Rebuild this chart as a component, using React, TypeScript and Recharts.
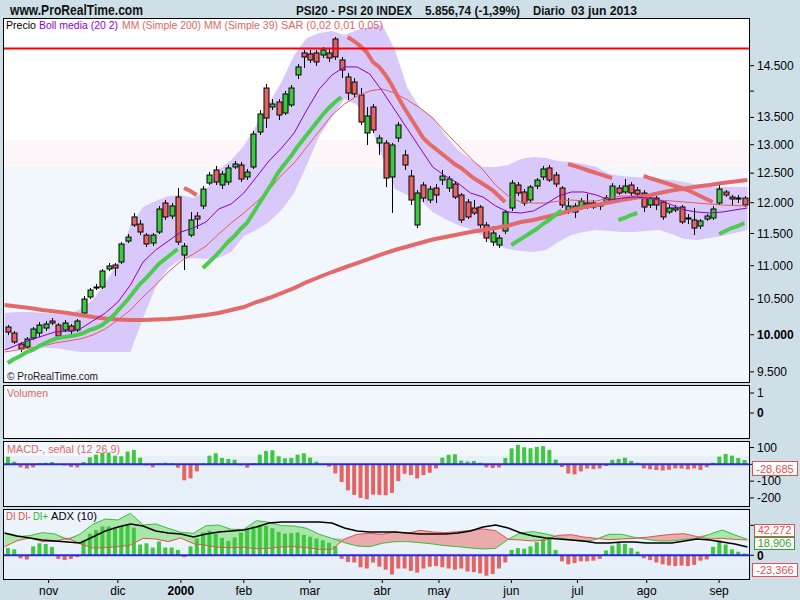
import React from 'react';
import { ComposedChart, Bar, Line, Area, XAxis, YAxis, ReferenceLine } from 'recharts';

const FONT = '"Liberation Sans", Arial, sans-serif';
const ROWS = 237; // sessions, mid Oct 1999 .. mid Sep 2000

// candles: one every two sessions (rows 1, 3, 5 ...)
const opens = [
  10107, 10023, 9873, 9832, 9955, 10023, 10093, 10191, 10135, 10065,
  10121, 10065, 10304, 10535, 10667, 10681, 10950, 11011, 11057, 11381,
  11766, 11652, 11476, 11350, 11524, 11995, 11782, 12095, 11164, 11476,
  11782, 11946, 12331, 12555, 12297, 12348, 12607, 12642, 12434, 12607,
  13231, 14060, 13696, 13791, 13583, 13734, 14315, 14757, 14737, 14757,
  14716, 14757, 15045, 14615, 14276, 14177, 13925, 13213, 13696, 13032,
  13032, 12434, 13122, 12817, 12451, 11636, 12297, 12045, 12246, 12382,
  12246, 12314, 12129, 12012, 11913, 11929, 11636, 11366, 11319, 11540,
  11913, 12297, 12179, 12045, 12280, 12434, 12590, 12468, 12246, 11880,
  11847, 11913, 11995, 11995, 11946, 11995, 12045, 12246, 12179, 12297,
  12212, 12162, 11962, 12078, 12012, 11847, 11880, 11929, 11750, 11717,
  11620, 11733, 11750, 11995, 12179, 12095, 12062, 12078,
];
const closes = [
  10037, 9900, 9805, 9941, 10079, 10135, 10149, 10163, 9982, 10163,
  10051, 10191, 10505, 10637, 10681, 10920, 10996, 10965, 11335, 11444,
  11636, 11524, 11335, 11476, 11896, 11766, 11946, 11366, 11303, 11717,
  11733, 12229, 12468, 12348, 12485, 12590, 12659, 12399, 12520, 13194,
  13564, 13489, 13753, 13545, 13944, 14060, 14475, 14676, 14615, 14575,
  14818, 14655, 14676, 14414, 13963, 13944, 13415, 13527, 13268, 13122,
  12416, 12996, 13360, 12642, 12045, 12162, 12078, 12229, 12129, 12451,
  12399, 12095, 11717, 11766, 11831, 11636, 11429, 11508, 11429, 11847,
  12331, 12162, 11995, 12263, 12382, 12572, 12382, 12314, 11962, 11946,
  11946, 12028, 11962, 11929, 11979, 12078, 12280, 12162, 12280, 12162,
  12145, 11929, 12078, 11962, 11766, 11913, 11913, 11685, 11733, 11588,
  11701, 11782, 11896, 12229, 12129, 12062, 12078, 11962,
];
const highs = [
  10135, 10051, 9900, 9968, 10107, 10177, 10191, 10233, 10163, 10205,
  10149, 10219, 10549, 10667, 10726, 10950, 11041, 11041, 11366, 11492,
  11831, 11717, 11508, 11508, 11946, 12045, 11995, 12246, 11350, 11847,
  11847, 12280, 12520, 12625, 12537, 12642, 12712, 12694, 12572, 13250,
  13639, 14138, 13848, 13848, 14002, 14119, 14535, 14818, 14818, 14818,
  14879, 14859, 15086, 14676, 14355, 14256, 14060, 13696, 13753, 13176,
  13086, 13032, 13415, 12906, 12555, 12212, 12348, 12280, 12314, 12555,
  12451, 12365, 12162, 12062, 12045, 11962, 11685, 11620, 11476, 11880,
  12382, 12348, 12229, 12297, 12416, 12625, 12642, 12520, 12280, 12078,
  11995, 12078, 12145, 12045, 12012, 12129, 12331, 12297, 12399, 12348,
  12263, 12212, 12112, 12112, 12045, 11962, 11962, 11962, 11814, 11913,
  11733, 11814, 11946, 12297, 12212, 12129, 12129, 12112,
];
const lows = [
  9996, 9873, 9764, 9805, 9927, 9968, 10051, 10135, 9955, 10037,
  9982, 10037, 10276, 10505, 10637, 10652, 10920, 10845, 11026, 11350,
  11604, 11476, 11288, 11303, 11492, 11717, 11733, 11319, 10935, 11444,
  11572, 11896, 12297, 12297, 12229, 12297, 12572, 12348, 12382, 12572,
  13176, 13305, 13639, 13452, 13545, 13696, 14236, 14455, 14555, 14495,
  14655, 14575, 14615, 14256, 13829, 13887, 13360, 12996, 13213, 12817,
  12263, 11831, 13050, 12555, 11962, 11588, 12012, 11995, 11995, 12297,
  12179, 12062, 11668, 11733, 11798, 11588, 11366, 11303, 11272, 11492,
  11864, 12112, 11946, 11995, 12229, 12382, 12348, 12263, 11913, 11814,
  11750, 11880, 11896, 11896, 11880, 11962, 12012, 12129, 12145, 12112,
  12095, 11847, 11913, 11880, 11717, 11814, 11847, 11652, 11652, 11476,
  11572, 11701, 11717, 11962, 12095, 11962, 11995, 11929,
];

// parabolic SAR, same spacing as the candles
const sar = [
  9617, 9670, 9710, 9764, 9791, 9845, 9886, 9927, 9955, 9968,
  9982, 9996, 10023, 10065, 10093, 10135, 10205, 10290, 10390, 10491,
  10608, 10726, 10815, 10920, 11026, 11103, 11179, 11257, 12246, 12196,
  12129, 10965, 11057, 11149, 11257, 11366, 11460, 11572, 11668, 11831,
  11995, 12162, 12331, 12520, 12659, 12799, 12960, 13104, 13250, 13397,
  13545, 13677, 13791, 13887, 15086, 15003, 14899, 14777, 14575, 14475,
  14315, 14119, 13887, 13677, 13489, 13305, 13122, 13014, 12924, 12835,
  12746, 12659, 12590, 12503, 12416, 12348, 12280, 12212, 12112, 12012,
  11319, 11381, 11444, 11508, 11572, 11652, 11717, 11798, 11880, 12659,
  12625, 12590, 12555, 12520, 12485, 12451, 12416, 11717, 11750, 11798,
  11831, 12451, 12416, 12382, 12348, 12314, 12280, 12246, 12212, 12162,
  12112, 12062, 12012, 11492, 11540, 11588, 11620, 11668,
];
// candle index where the SAR changes side (run 0 is below the price)
const sarFlips = [28, 31, 54, 80, 89, 97, 101, 113];

const macdHist = [
  45, 16, -18, -25, -18, 8, 10, 14, 2, -5,
  -16, -18, 14, 42, 58, 68, 70, 52, 48, 76,
  86, 40, -4, -18, 8, 10, 6, -20, -95, -84,
  -42, 6, 52, 66, 38, 32, 28, -6, -20, 8,
  58, 80, 84, 48, 36, 38, 58, 66, 40, 16,
  4, -14, -54, -105, -155, -182, -200, -208, -180, -182,
  -184, -170, -100, -56, -64, -84, -64, -50, -24, 40,
  57, 60, 22, 17, 20, 10, -18, -22, -18, 38,
  95, 116, 102, 96, 104, 108, 86, 28, -16, -55,
  -60, -42, -25, -28, -24, -10, 27, 32, 40, 20,
  10, -24, -29, -34, -37, -32, -24, -25, -30, -24,
  -33, -17, 10, 46, 62, 52, 38, 26,
];
const dmiHist = [
  12, 10, -5, -7, 15, 20, 19, 14, -6, -8,
  -6, -3, 25, 36, 42, 48, 48, 46, 49, 52,
  46, 18, 20, 13, 23, 13, 13, 9, -3, 15,
  28, 38, 41, 36, 29, 24, 30, 38, 44, 48,
  50, 49, 45, 39, 36, 37, 38, 34, 31, 28,
  25, 21, 15, -6, -11, -12, -20, -22, -12, -19,
  -24, -32, -22, -22, -26, -29, -22, -19, -18, -20,
  -22, -24, -22, -27, -28, -30, -34, -31, -22, -12,
  9, 12, 11, 15, 22, 27, 30, 9, -10, -15,
  -13, -10, -10, -9, -6, 8, 16, 21, 19, 12,
  6, -5, -8, -12, -15, -17, -18, -17, -18, -16,
  -9, -7, 14, 25, 18, 10, 6, 3,
];

// indicators read every four sessions (rows 0, 4, 8 ...)
const bollUpper = [
  10304, 10318, 10318, 10304, 10290, 10276, 10361, 10491, 10741, 11057,
  11636, 11929, 12028, 12112, 12129, 12078, 12212, 12555, 12729, 12978,
  13360, 13772, 14177, 14716, 15066, 15170, 15212, 15128, 15233, 15296,
  15339, 14818, 14060, 13677, 13508, 13176, 12906, 12746, 12607, 12607,
  12642, 12746, 12781, 12764, 12712, 12694, 12659, 12607, 12485, 12451,
  12434, 12416, 12399, 12382, 12348, 12297, 12263, 12263, 12263, 12263,
];
const bollLower = [
  9791, 9805, 9805, 9818, 9818, 9791, 9764, 9764, 9764, 9764,
  9764, 10233, 10681, 10965, 11103, 11118, 11103, 11118, 11210, 11460,
  11556, 11685, 11880, 12162, 12642, 13158, 13508, 13848, 13734, 13378,
  12781, 12229, 12129, 12045, 11847, 11733, 11636, 11572, 11460, 11319,
  11257, 11226, 11210, 11241, 11366, 11476, 11524, 11556, 11540, 11524,
  11524, 11540, 11556, 11492, 11413, 11397, 11429, 11460, 11508, 11556,
];
const bollMid = [
  9791, 9859, 9927, 9982, 10037, 10051, 10079, 10191, 10304, 10462,
  10711, 11057, 11241, 11381, 11524, 11588, 11685, 11896, 11979, 12162,
  12434, 12712, 12942, 13213, 13639, 14041, 14315, 14475, 14475, 14335,
  14002, 13639, 13286, 12942, 12607, 12451, 12331, 12162, 12095, 11946,
  11847, 11831, 11864, 11979, 12112, 12179, 12179, 12129, 12045, 12078,
  12095, 12078, 12045, 11962, 11880, 11847, 11831, 11847, 11880, 11913,
];
const sma200 = [
  10419, 10397, 10376, 10347, 10326, 10304, 10276, 10248, 10226, 10212,
  10205, 10205, 10212, 10219, 10233, 10255, 10276, 10304, 10347, 10390,
  10462, 10520, 10593, 10666, 10755, 10830, 10905, 10973, 11041, 11110,
  11179, 11241, 11296, 11350, 11405, 11444, 11484, 11524, 11556, 11588,
  11628, 11685, 11717, 11766, 11814, 11872, 11929, 11962, 12003, 12045,
  12078, 12112, 12162, 12204, 12238, 12272, 12297, 12331, 12356, 12382,
];
const sma39 = [
  9764, 9791, 9818, 9845, 9886, 9913, 9941, 9996, 10079, 10205,
  10347, 10535, 10711, 10905, 11072, 11179, 11303, 11492, 11668, 11831,
  12012, 12212, 12468, 12677, 12960, 13250, 13545, 13753, 13906, 14002,
  14041, 13963, 13829, 13677, 13489, 13231, 12996, 12764, 12555, 12297,
  12112, 12012, 11995, 11995, 12028, 12045, 12028, 12028, 12078, 12112,
  12112, 12078, 12045, 12028, 12012, 11995, 11979, 11962, 11954, 11946,
];
const adx = [
  37.2, 32.2, 28.8, 25.5, 23.8, 22.2, 20.5, 30.5, 40.5, 47.2,
  52.2, 48.8, 40.5, 37.2, 35.5, 30.5, 35.5, 38.8, 40.5, 42.2,
  47.2, 53.8, 55.5, 55.5, 55.5, 55.5, 53.8, 45.5, 40.5, 38.8,
  38.8, 38.8, 37.2, 35.5, 35.5, 35.5, 37.2, 40.5, 47.2, 50.5,
  45.5, 37.2, 32.2, 28.8, 27.2, 25.5, 23.8, 20.5, 20.5, 22.2,
  22.2, 20.5, 20.5, 20.5, 23.8, 27.2, 25.5, 22.2, 18.8, 13.8,
];
const diPlus = [
  36.6, 31.1, 32.8, 37.8, 35.5, 25.5, 35.5, 51.6, 60.5, 58.9,
  70.0, 50.5, 52.2, 45.0, 38.3, 36.6, 49.4, 50.5, 43.3, 43.3,
  57.8, 55.0, 49.4, 48.9, 45.0, 35.0, 28.3, 21.1, 15.5, 14.4,
  20.0, 22.8, 22.8, 21.1, 18.9, 16.1, 14.4, 12.2, 10.5, 11.6,
  26.6, 37.8, 39.4, 35.5, 29.4, 25.5, 22.8, 26.6, 35.0, 35.0,
  30.0, 26.6, 23.9, 23.9, 26.6, 28.3, 35.0, 42.2, 33.9, 26.6,
];
const diMinus = [
  14.4, 24.4, 28.9, 22.8, 23.3, 28.3, 19.4, 12.2, 12.8, 14.4,
  17.2, 28.3, 27.2, 22.8, 28.9, 19.4, 16.6, 13.3, 12.8, 13.3,
  11.1, 11.6, 13.9, 14.4, 12.8, 10.0, 10.0, 27.2, 35.0, 36.6,
  35.0, 38.9, 36.6, 41.7, 38.9, 37.8, 39.4, 41.7, 43.9, 41.1,
  26.6, 25.5, 23.9, 25.5, 33.3, 34.4, 30.5, 28.3, 26.1, 27.2,
  28.3, 30.0, 32.8, 35.0, 36.1, 31.1, 27.2, 28.3, 26.6, 25.5,
];

const months = [
  { d: 14, label: 'nov' }, { d: 36, label: 'dic' }, { d: 56, label: '2000' },
  { d: 76, label: 'feb' }, { d: 97, label: 'mar' }, { d: 120, label: 'abr' },
  { d: 138, label: 'may' }, { d: 161, label: 'jun' }, { d: 182, label: 'jul' },
  { d: 204, label: 'ago' }, { d: 227, label: 'sep' },
];
const priceTicks = [9500, 10000, 10500, 11000, 11500, 12000, 12500, 13000, 13500, 14000, 14500];
const topLine = 14850;

const GREEN = '#3fc83f';
const RED = '#e46464';

type Row = { [key: string]: any };
const rows: Row[] = [];
for (let d = 0; d < ROWS; d++) rows.push({ d });
opens.forEach((o, k) => {
  const r = rows[2 * k + 1];
  r.o = o;
  r.h = highs[k];
  r.l = lows[k];
  r.c = closes[k];
  r.range = [lows[k], highs[k]];
  r.macd = macdHist[k];
  r.dmi = dmiHist[k];
});
let run = 0;
sar.forEach((v, k) => {
  while (run < sarFlips.length && k >= sarFlips[run]) run++;
  rows[2 * k + 1]['sar' + run] = v;
});
const sarRuns = sarFlips.length + 1;
bollUpper.forEach((u, j) => {
  const r = rows[4 * j];
  r.band = [bollLower[j], u];
  r.mid = bollMid[j];
  r.s200 = sma200[j];
  r.s39 = sma39[j];
  r.adx = adx[j];
  r.dip = diPlus[j];
  r.dim = diMinus[j];
  const top = Math.max(diPlus[j], diMinus[j]);
  r.upFill = [diMinus[j], top];
  r.dnFill = [diPlus[j], top];
});

const fmtPrice = (v: number) => `${Math.floor(v / 1000)}.${String(v % 1000).padStart(3, '0')}`;

const PriceTick = (props: any) => {
  const { x, y, payload } = props;
  const v = payload.value;
  if (v === 14000) return <g />;
  return (
    <text x={x} y={y} dy={4} textAnchor="start" fontSize={12} fontFamily={FONT}
      fontWeight={v === 10000 ? 'bold' : 'normal'} fill="#000">
      {fmtPrice(v)}
    </text>
  );
};

// labels covered by the value tags in the reference are left out
const plainTick = (hidden: number[], dy = 4) => (props: any) => {
  const { x, y, payload } = props;
  const v = payload.value;
  if (hidden.includes(v)) return <g />;
  return (
    <text x={x} y={y} dy={dy} textAnchor="start" fontSize={12} fontFamily={FONT}
      fontWeight={v === 0 ? 'bold' : 'normal'} fill="#000">
      {v}
    </text>
  );
};

const MonthTick = (props: any) => {
  const { x, y, payload } = props;
  const m = months.find((mm) => mm.d === payload.value);
  const label = m ? m.label : '';
  return (
    <text x={x} y={y} dy={10} textAnchor="middle" fontSize={12} fontFamily={FONT}
      fontWeight={label === '2000' ? 'bold' : 'normal'} fill="#000">
      {label}
    </text>
  );
};

const Candle = (props: any) => {
  const { x, y, width, height, payload } = props;
  if (!payload || payload.o == null || !isFinite(y) || !isFinite(height)) return <g />;
  const cx = Math.round(x + width / 2) + 0.5;
  const lh = Math.log(payload.h);
  const ll = Math.log(payload.l);
  const span = lh - ll || 1;
  const at = (v: number) => y + (height * (lh - Math.log(v))) / span;
  const yo = at(payload.o);
  const yc = at(payload.c);
  const top = Math.min(yo, yc);
  const bot = Math.max(yo, yc);
  const up = payload.c >= payload.o;
  return (
    <g>
      <line x1={cx} x2={cx} y1={y} y2={y + height} stroke="#000" strokeWidth={1} />
      <rect x={cx - 2.5} y={top} width={5} height={Math.max(bot - top, 1)}
        fill={up ? GREEN : RED} stroke="#000" strokeWidth={1} />
    </g>
  );
};

const histShape = (key: string) => (props: any) => {
  const { x, y, width, height, payload } = props;
  const v = payload ? payload[key] : undefined;
  if (v == null || !isFinite(y) || !isFinite(height)) return <g />;
  const top = Math.min(y, y + height);
  const h = Math.max(Math.abs(height), 1);
  const cx = x + width / 2;
  return <rect x={cx - 2} y={top} width={4} height={h} fill={v >= 0 ? GREEN : RED} />;
};

const margin = { top: 0, right: 3, bottom: 0, left: 3 };

const Txt = ({ x, y, len, children, color = '#000', size = 11, bold = false }: any) => (
  <text x={x} y={y} textLength={len} lengthAdjust="spacingAndGlyphs" fontSize={size}
    fontFamily={FONT} fontWeight={bold ? 'bold' : 'normal'} fill={color}>
    {children}
  </text>
);

const Tag = ({ x, y, w, h, text, color }: any) => (
  <g>
    <rect x={x + 0.5} y={y + 0.5} width={w} height={h} fill="#fff" stroke={color} />
    <text x={x + w / 2 + 0.5} y={y + h - 2} textAnchor="middle" fontSize={11} fontFamily={FONT} fill={color}>
      {text}
    </text>
  </g>
);

const box = (top: number, height: number, bg: string): React.CSSProperties => ({
  position: 'absolute', left: 3, top, width: 747, height, background: bg,
});
const frame = (top: number, height: number): React.CSSProperties => ({
  position: 'absolute', left: 3, top, width: 747, height, border: '1px solid #000',
  boxSizing: 'border-box', pointerEvents: 'none',
});
const at = (top: number): React.CSSProperties => ({ position: 'absolute', left: 0, top });

export default function App() {
  return (
    <div style={{ position: 'absolute', left: 0, top: 0, width: 800, height: 600, overflow: 'hidden', background: '#cfdfe7' }}>
      <div style={box(18, 365, 'linear-gradient(#ffffff 0, #ffffff 122px, #fdf7fb 122px, #fdf7fb 149px, #f2f7fd 149px)')} />
      <div style={box(385, 54, '#f1f7fd')} />
      <div style={box(441, 66, 'linear-gradient(#f3f8fd 0, #f3f8fd 15px, #e7f0f9 15px)')} />
      <div style={box(509, 71, 'linear-gradient(#eef5fc 0, #e5eff8 100%)')} />

      <div style={at(19)}>
        <ComposedChart width={800} height={363} data={rows} margin={margin}>
          <XAxis dataKey="d" hide />
          <YAxis orientation="right" width={48} type="number" scale="log" domain={[9368, 15466]}
            allowDataOverflow ticks={priceTicks} interval={0} tick={<PriceTick />}
            tickSize={5} tickMargin={3} axisLine={false} tickLine={{ stroke: '#000' }} />
          <Area dataKey="band" type="linear" stroke="none" fill="#d8c9fa" fillOpacity={1}
            connectNulls isAnimationActive={false} />
          <Line dataKey="s200" type="linear" stroke="#e26a6a" strokeWidth={4} dot={false}
            connectNulls isAnimationActive={false} />
          <Line dataKey="s39" type="linear" stroke="#e25c5c" strokeWidth={1} dot={false}
            connectNulls isAnimationActive={false} />
          <Line dataKey="mid" type="linear" stroke="#8a00cc" strokeWidth={1} dot={false}
            connectNulls isAnimationActive={false} />
          {Array.from({ length: sarRuns }, (_, s) => (
            <Line key={s} dataKey={'sar' + s} type="linear" stroke={s % 2 === 0 ? '#4ccc4c' : '#e46a6a'}
              strokeWidth={4} strokeLinecap="butt" dot={false} connectNulls isAnimationActive={false} />
          ))}
          <Bar dataKey="range" shape={Candle} isAnimationActive={false} />
          <ReferenceLine y={topLine} stroke="#ff0000" strokeWidth={2} />
        </ComposedChart>
      </div>

      <div style={at(385)}>
        <ComposedChart width={800} height={53} data={rows} margin={margin}>
          <XAxis dataKey="d" hide />
          <YAxis orientation="right" width={48} type="number" domain={[-1.25, 1.4]} allowDataOverflow
            ticks={[0, 1]} interval={0} tick={plainTick([])} tickSize={5} tickMargin={3}
            axisLine={false} tickLine={{ stroke: '#000' }} />
          <Line dataKey="volume" stroke="none" dot={false} isAnimationActive={false} />
        </ComposedChart>
      </div>

      <div style={at(441)}>
        <ComposedChart width={800} height={65} data={rows} margin={margin}>
          <XAxis dataKey="d" hide />
          <YAxis orientation="right" width={48} type="number" domain={[-248, 139]} allowDataOverflow
            ticks={[-200, -100, 0, 100]} interval={0} tick={plainTick([0])} tickSize={5} tickMargin={3}
            axisLine={false} tickLine={{ stroke: '#000' }} />
          <Bar dataKey="macd" shape={histShape('macd')} isAnimationActive={false} />
          <ReferenceLine y={0} stroke="#2828dc" strokeWidth={2} />
        </ComposedChart>
      </div>

      <div style={at(509)}>
        <ComposedChart width={800} height={91} data={rows} margin={margin}>
          <XAxis dataKey="d" ticks={months.map((m) => m.d)} interval={0} tick={<MonthTick />}
            height={21} tickSize={4} tickMargin={2} axisLine={false} tickLine={{ stroke: '#000' }} />
          <YAxis orientation="right" width={48} type="number" domain={[-39.5, 77.2]} allowDataOverflow
            ticks={[0, 50]} interval={0} tick={plainTick([50], 5)} tickSize={5} tickMargin={3}
            axisLine={false} tickLine={{ stroke: '#000' }} />
          <Area dataKey="upFill" type="linear" stroke="none" fill="#a9e6a9" fillOpacity={1}
            connectNulls isAnimationActive={false} />
          <Area dataKey="dnFill" type="linear" stroke="none" fill="#e9abab" fillOpacity={1}
            connectNulls isAnimationActive={false} />
          <Bar dataKey="dmi" shape={histShape('dmi')} isAnimationActive={false} />
          <Line dataKey="dip" type="linear" stroke="#3cbc3c" strokeWidth={1} dot={false}
            connectNulls isAnimationActive={false} />
          <Line dataKey="dim" type="linear" stroke="#e05050" strokeWidth={1} dot={false}
            connectNulls isAnimationActive={false} />
          <Line dataKey="adx" type="linear" stroke="#000" strokeWidth={1.5} dot={false}
            connectNulls isAnimationActive={false} />
          <ReferenceLine y={0} stroke="#2828dc" strokeWidth={2} />
        </ComposedChart>
      </div>

      <div style={frame(18, 365)} />
      <div style={frame(385, 54)} />
      <div style={frame(441, 66)} />
      <div style={frame(509, 71)} />

      <svg width={800} height={600} style={{ position: 'absolute', left: 0, top: 0, pointerEvents: 'none' }}>
        <Txt x={10} y={15} len={133} size={14} bold color="#111">www.ProRealTime.com</Txt>
        <Txt x={296} y={15} len={116} size={12} bold color="#111">PSI20 - PSI 20 INDEX</Txt>
        <Txt x={425} y={15} len={95} size={12} bold color="#111">5.856,74 (-1,39%)</Txt>
        <Txt x={533} y={15} len={32} size={12} bold color="#111">Diario</Txt>
        <Txt x={571} y={15} len={66} size={12} bold color="#111">03 jun 2013</Txt>

        <Txt x={6} y={29} len={30}>Precio</Txt>
        <Txt x={39} y={29} len={79} color="#9000d0">Boll media (20 2)</Txt>
        <Txt x={122} y={29} len={79} color="#e06666">MM (Simple 200)</Txt>
        <Txt x={204} y={29} len={74} color="#e06666">MM (Simple 39)</Txt>
        <Txt x={281} y={29} len={102} color="#e06666">SAR (0,02 0,01 0,05)</Txt>
        <Txt x={7} y={380} len={91} size={11} color="#222">© ProRealTime.com</Txt>

        <Txt x={7} y={397} len={41} color="#e06666">Volumen</Txt>
        <Txt x={7} y={453} len={113} color="#e06666">MACD-, señal (12 26 9)</Txt>
        <Txt x={6} y={520} len={25} color="#e05050">DI DI-</Txt>
        <Txt x={33} y={520} len={15} color="#30b030">DI+</Txt>
        <Txt x={51} y={520} len={46}>ADX (10)</Txt>

        <Tag x={752} y={461} w={45} h={14} text="-28,685" color="#e05050" />
        <Tag x={754} y={524} w={40} h={12} text="42,272" color="#e05050" />
        <Tag x={754} y={537} w={40} h={12} text="18,906" color="#30a030" />
        <Tag x={752} y={563} w={45} h={13} text="-23,366" color="#e05050" />
      </svg>
    </div>
  );
}
